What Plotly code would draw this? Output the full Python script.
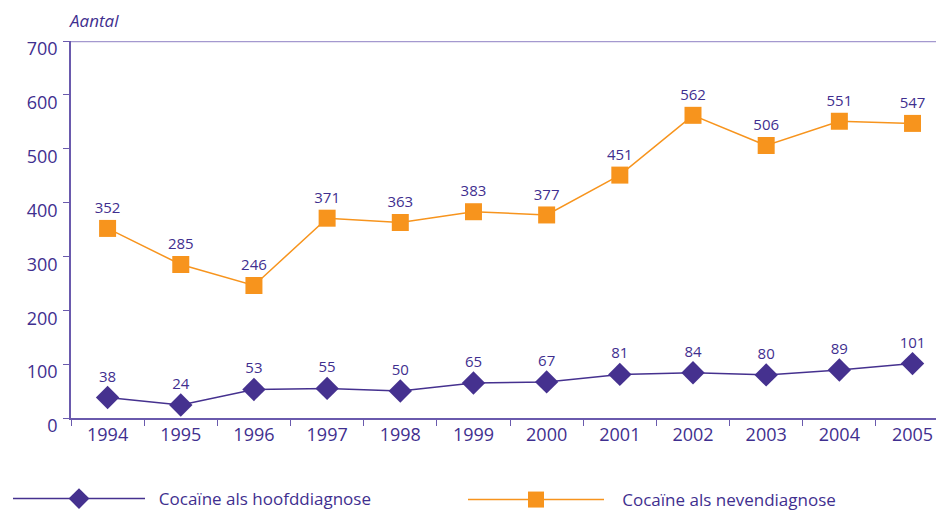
import plotly.graph_objects as go

# Gegevens uit de grafiek
jaren = ["1994", "1995", "1996", "1997", "1998", "1999", "2000", "2001", "2002", "2003", "2004", "2005"]
hoofddiagnose = [38, 24, 53, 55, 50, 65, 67, 81, 84, 80, 89, 101]
nevendiagnose = [352, 285, 246, 371, 363, 383, 377, 451, 562, 506, 551, 547]

PAARS_TEKST = "#3f2f8f"
PAARS = "#45318f"
ORANJE = "#f7941d"
AS_KLEUR = "#6a5aad"
FONT = "Open Sans"

# de pagina heeft 8px marge in de body, dus figuur iets kleiner
W, H = 936, 502

fig = go.Figure()

fig.add_trace(go.Scatter(
    x=jaren, y=hoofddiagnose, mode="lines+markers+text",
    name="\u00a0\u00a0Cocaïne als hoofddiagnose", legend="legend",
    line=dict(color=PAARS, width=1.5),
    marker=dict(symbol="diamond", size=18, color=PAARS),
    text=[str(v) for v in hoofddiagnose], textposition="top center",
    textfont=dict(size=15, color=PAARS_TEKST, family=FONT),
    cliponaxis=False,
))
fig.add_trace(go.Scatter(
    x=jaren, y=nevendiagnose, mode="lines+markers+text",
    name="\u00a0\u00a0\u00a0Cocaïne als nevendiagnose", legend="legend2",
    line=dict(color=ORANJE, width=1.5),
    marker=dict(symbol="square", size=17, color=ORANJE),
    text=[str(v) for v in nevendiagnose], textposition="top center",
    textfont=dict(size=15, color=PAARS_TEKST, family=FONT),
    cliponaxis=False,
))

# lichte lijn bovenaan (700)
fig.add_shape(type="line", xref="paper", x0=0, x1=1, yref="y", y0=700, y1=700,
              line=dict(color="#a499cf", width=2.5))

fig.add_annotation(text="<i>Aantal</i>", xref="paper", yref="paper", x=0, y=1.0,
                   xanchor="left", yanchor="bottom", yshift=7, xshift=-4, showarrow=False,
                   font=dict(size=17, color=PAARS_TEKST, family=FONT))

leg = dict(orientation="h", xref="container", yref="container", yanchor="middle",
           font=dict(size=17, color=PAARS_TEKST, family=FONT),
           bgcolor="rgba(0,0,0,0)", borderwidth=0)

fig.update_layout(
    width=W, height=H,
    margin=dict(l=63, r=0, t=33, b=92),
    plot_bgcolor="white", paper_bgcolor="white",
    font=dict(family=FONT, color=PAARS_TEKST, size=17),
    showlegend=True,
    legend=dict(leg, x=0, y=11 / H, xanchor="left", itemwidth=132),
    legend2=dict(leg, x=455 / W, y=10 / H, xanchor="left", itemwidth=136),
    xaxis=dict(type="category", range=[-0.5, 11.43], showline=True, linecolor=AS_KLEUR,
               linewidth=1.5, ticks="outside", tickson="boundaries", ticklen=6,
               tickcolor=AS_KLEUR, showgrid=False, zeroline=False,
               tickfont=dict(size=18, color=PAARS_TEKST)),
    yaxis=dict(range=[0, 700], dtick=100, showline=True, linecolor=AS_KLEUR, linewidth=1.5,
               ticks="outside", ticklen=6, tickcolor=AS_KLEUR, showgrid=False,
               zeroline=False, ticklabelshift=8, ticklabelstandoff=2,
               tickfont=dict(size=18, color=PAARS_TEKST)),
)

fig.write_html("out.html")
